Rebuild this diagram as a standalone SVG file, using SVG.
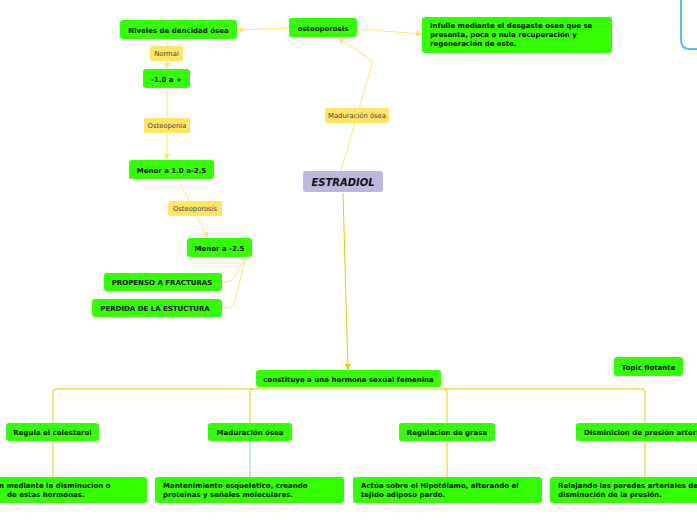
<svg xmlns="http://www.w3.org/2000/svg" width="697" height="520" viewBox="0 0 697 520">
<defs>
<style>
.n{fill:#33ff00;}
.t{font-family:"DejaVu Sans",Verdana,sans-serif;font-weight:bold;font-size:7px;fill:#111;}
.lb{fill:#ffe566;}
.lt{font-family:"DejaVu Sans",Verdana,sans-serif;font-size:6.8px;fill:#444;}
.cl{fill:none;stroke:#ffe273;stroke-width:1;}
.cg{fill:none;stroke:#e8cc00;stroke-width:1;}
.ct{fill:none;stroke:#7fd4c4;stroke-width:1;}
</style>
<marker id="al" viewBox="0 0 6 6" refX="6" refY="3" markerWidth="6" markerHeight="6" orient="auto" markerUnits="userSpaceOnUse"><path d="M0,0L6,3L0,6z" fill="#ffe273"/></marker>
<marker id="ag" viewBox="0 0 6 6" refX="6" refY="3" markerWidth="6" markerHeight="6" orient="auto" markerUnits="userSpaceOnUse"><path d="M0,0L6,3L0,6z" fill="#e8cc00"/></marker>
</defs>
<rect width="697" height="520" fill="#fff"/>
<path d="M681,0 V40 Q681,49 690,49 H697" fill="none" stroke="#5bbcf0" stroke-width="2"/>
<g id="connectors">
<path class="cl" d="M341,171 L373,61 L338,38" marker-end="url(#al)"/>
<path class="cl" d="M289,28 L237,30" marker-end="url(#al)"/>
<path class="cl" d="M357,29 L422,34" marker-end="url(#al)"/>
<path class="cl" d="M168,39 L167,69" marker-end="url(#al)"/>
<path class="cl" d="M167,88 L167,160" marker-end="url(#al)"/>
<path class="cl" d="M178,179 L208,238" marker-end="url(#al)"/>
<path class="cl" d="M246,257 L234,278 Q232,282 222,282"/>
<path class="cl" d="M246,257 L234,304 Q232,308 222,308"/>
<path class="cg" d="M343,193 L348,370" marker-end="url(#ag)"/>
<path class="cg" d="M53,423 V392 Q53,389 56,389 H642 Q645,389 645,392 V423"/>
<path class="cg" d="M250,423 V392 Q250,389 253,389"/>
<path class="cg" d="M447,423 V392 Q447,389 444,389"/>
<path class="cg" d="M53,441 V477"/>
<path class="ct" d="M250,441 V477"/>
<path class="cg" d="M447,441 V477"/>
<path class="cg" d="M645,441 V477"/>
</g>
<g id="niveles"><rect class="n" x="120" y="20" width="117" height="19" rx="3"/><text class="t" x="178.5" y="32.5" text-anchor="middle">Niveles de dencidad ósea</text></g>
<g id="osteoporosis"><rect class="n" x="289" y="18" width="68" height="19" rx="3"/><text class="t" x="323" y="30.5" text-anchor="middle">osteoporosis</text></g>
<g id="info"><rect class="n" x="422" y="17" width="190" height="36" rx="3"/>
<text class="t" x="430" y="28">Infulle  mediante el desgaste oseo que se</text>
<text class="t" x="430" y="37">presenta, poca o nula recuperación y</text>
<text class="t" x="430" y="45.5">regeneración de este.</text></g>
<g id="lbl-normal"><rect class="lb" x="150" y="46" width="33" height="15" rx="2"/><text class="lt" x="166.5" y="56" text-anchor="middle">Normal</text></g>
<g id="n1"><rect class="n" x="143" y="69" width="47" height="19" rx="3"/><text class="t" x="166.5" y="81.5" text-anchor="middle">-1.0 a +</text></g>
<g id="lbl-osteopenia"><rect class="lb" x="144" y="118" width="46" height="15" rx="2"/><text class="lt" x="167" y="128" text-anchor="middle">Osteopenia</text></g>
<g id="n2"><rect class="n" x="129" y="160" width="85" height="19" rx="3"/><text class="t" x="171.5" y="172.5" text-anchor="middle">Menor a 1.0 a-2.5</text></g>
<g id="lbl-osteoporosis"><rect class="lb" x="168" y="201" width="54" height="15" rx="2"/><text class="lt" x="195" y="211" text-anchor="middle">Osteoporosis</text></g>
<g id="lbl-maduracion"><rect class="lb" x="325" y="108" width="64" height="15" rx="2"/><text class="lt" x="357" y="118" text-anchor="middle">Maduración ósea</text></g>
<g id="estradiol"><rect x="303" y="171" width="80" height="21" rx="3" fill="#bdb7dd"/><text x="343" y="185.5" text-anchor="middle" font-family="DejaVu Sans,Verdana,sans-serif" font-weight="bold" font-style="italic" font-size="10" fill="#111">ESTRADIOL</text></g>
<g id="n3"><rect class="n" x="187" y="238" width="65" height="19" rx="3"/><text class="t" x="219.5" y="250.5" text-anchor="middle">Menor a -2.5</text></g>
<g id="propenso"><rect class="n" x="104" y="273" width="118" height="18" rx="3"/><text class="t" x="162" y="285" text-anchor="middle">PROPENSO A FRACTURAS</text></g>
<g id="perdida"><rect class="n" x="92" y="299" width="130" height="18" rx="3"/><text class="t" x="155" y="311" text-anchor="middle">PERDIDA DE LA ESTUCTURA</text></g>
<g id="constituye"><rect class="n" x="256" y="370" width="185" height="17" rx="3"/><text class="t" x="348.5" y="381.5" text-anchor="middle">constituye a una hormona sexual femenina</text></g>
<g id="topic"><rect class="n" x="614" y="357" width="69" height="19" rx="3"/><text class="t" x="648.5" y="369.5" text-anchor="middle">Topic flotante</text></g>
<g id="regula"><rect class="n" x="6" y="423" width="93" height="18" rx="3"/><text class="t" x="52.5" y="435" text-anchor="middle">Regula el colesterol</text></g>
<g id="maduracion"><rect class="n" x="208" y="423" width="84" height="18" rx="3"/><text class="t" x="250" y="435" text-anchor="middle">Maduración ósea</text></g>
<g id="grasa"><rect class="n" x="399" y="423" width="96" height="18" rx="3"/><text class="t" x="447" y="435" text-anchor="middle">Regulacion de grasa</text></g>
<g id="presion"><rect class="n" x="576" y="423" width="140" height="18" rx="3"/><text class="t" x="584" y="435">Disminicion de presión arterial</text></g>
<g id="b1"><rect class="n" x="-42" y="477" width="189" height="26" rx="3"/>
<text class="t" x="-1" y="488">n mediante la disminucion o</text>
<text class="t" x="7" y="497">de estas hormonas.</text></g>
<g id="b2"><rect class="n" x="155" y="477" width="189" height="26" rx="3"/>
<text class="t" x="163" y="488">Mantenimiento esqueletico, creando</text>
<text class="t" x="163" y="497">proteinas  y señales moleculares.</text></g>
<g id="b3"><rect class="n" x="353" y="477" width="189" height="26" rx="3"/>
<text class="t" x="361" y="488">Actúa sobre el Hipotólamo, alterando el</text>
<text class="t" x="361" y="497">tejido adiposo pardo.</text></g>
<g id="b4"><rect class="n" x="550" y="477" width="189" height="26" rx="3"/>
<text class="t" x="558" y="488">Relajando las paredes arteriales de</text>
<text class="t" x="558" y="497">disminución de la presión.</text></g>
</svg>
